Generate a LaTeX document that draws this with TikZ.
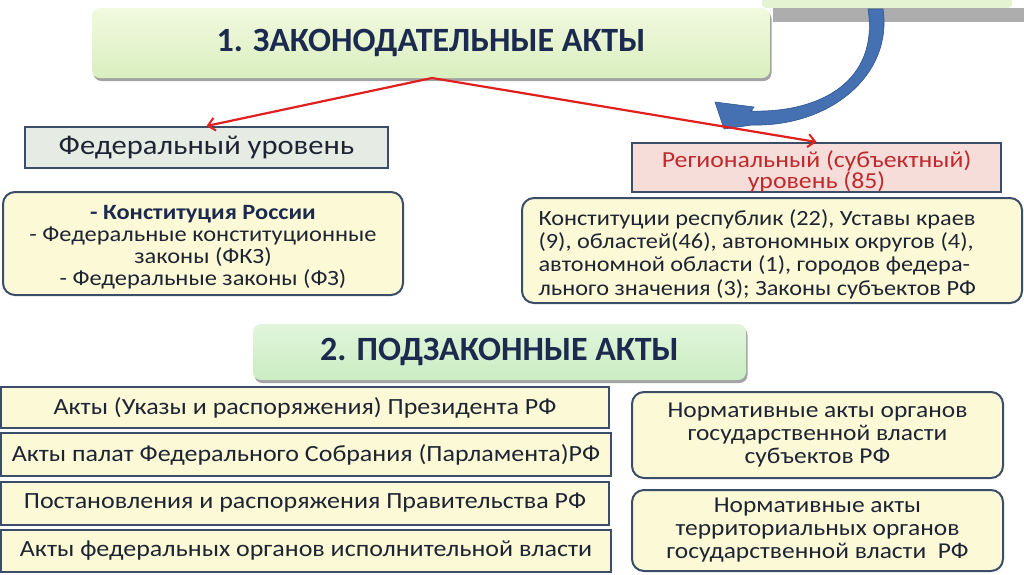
\documentclass[tikz,border=0pt]{standalone}
\usepackage{fontspec}
\setmainfont[FakeStretch=1.12]{Carlito}
\newfontfamily\titlefont{Carlito}
\usetikzlibrary{shadows,arrows.meta}
\definecolor{navy}{HTML}{1B2A4E}
\definecolor{txt}{HTML}{1E2433}
\definecolor{bord}{HTML}{3B4D68}
\definecolor{yell}{HTML}{FCFAD6}
\definecolor{fedfill}{HTML}{E6ECE4}
\definecolor{regfill}{HTML}{F7DDD9}
\definecolor{regtxt}{HTML}{BE2A2E}
\definecolor{redline}{HTML}{E0201E}
\definecolor{blueA}{HTML}{4571B2}
\definecolor{blueB}{HTML}{2E5590}
\definecolor{gA}{HTML}{F2F9DF}
\definecolor{gB}{HTML}{D9EFBF}
\definecolor{mA}{HTML}{E2F5DC}
\definecolor{mB}{HTML}{C9EDC2}
\begin{document}
\begin{tikzpicture}[x=1pt,y=-1pt,
  titlebox/.style={rounded corners=8pt, draw=none,
    drop shadow={shadow xshift=1.5pt, shadow yshift=-3pt, fill=black!45, opacity=0.8},
    text=navy, font=\titlefont\bfseries\fontsize{34}{40}\selectfont},
  flatbox/.style={draw=bord, line width=2pt, text=txt, align=center,
    font=\fontsize{23.2}{23}\selectfont, inner sep=0pt},
  roundbox/.style={flatbox, rounded corners=12pt, fill=yell},
  listbox/.style={flatbox, fill=yell},
  redarrow/.style={draw=redline, line width=2.2pt, -{Straight Barb[length=7pt,width=13pt,line width=2pt]}}
]
\useasboundingbox (0,0) rectangle (1024,574);
\fill[white] (0,0) rectangle (1024,574);

% top-right cut-off box
\fill[gB!70!white, rounded corners=4pt] (762,-10) rectangle (1012,8);
\fill[black!32] (773,8) rectangle (1024,22);

% title 1
\node[titlebox, top color=gA, bottom color=gB, minimum width=678, minimum height=70] (t1) at (431,43) {1. ЗАКОНОДАТЕЛЬНЫЕ АКТЫ};

% blue curved arrow
\filldraw[fill=blueA, draw=blueB, line width=0.6pt]
  (883,9) .. controls (893,75) and (830,127) .. (752,125)
  -- (724,129) -- (715,102) -- (754,107) -- (751,111)
  .. controls (822,113) and (879,80) .. (868,9) -- cycle;

% federal level
\node[flatbox, fill=fedfill, minimum width=363, minimum height=41, font=\fontsize{27.3}{28}\selectfont] (fed) at (206.5,147.5) {Федеральный уровень};
\node[roundbox, minimum width=400, minimum height=103] (fedc) at (203,243.5) {};
\node[text=txt, align=center, font=\fontsize{21.8}{22}\selectfont] (fedt) at (203,247) {{\bfseries\color{navy}- Конституция России}\\- Федеральные конституционные\\законы (ФКЗ)\\- Федеральные законы (ФЗ)};

% regional level
\node[flatbox, fill=regfill, minimum width=369, minimum height=49] (reg) at (816.5,167.5) {};
\node[text=regtxt, align=center, font=\fontsize{23}{21}\selectfont] (regt) at (816.5,171) {Региональный (субъектный)\\уровень (85)};
\node[roundbox, minimum width=500, minimum height=105] (regc) at (772,250.5) {};
\node[anchor=west, text=txt, align=left, font=\fontsize{21.7}{23.3}\selectfont] (regct) at (535,254) {Конституции республик (22), Уставы краев\\(9), областей(46), автономных округов (4),\\автономной области (1), городов федера-\\льного значения (3); Законы субъектов РФ};

% arrows from title 1
\coordinate (apex) at (432,78);
\draw[redarrow] (apex) -- (fed.north);
\draw[redarrow] (apex) -- (reg.north);

% title 2
\node[titlebox, top color=mA, bottom color=mB, minimum width=493, minimum height=56] (t2) at (499.5,352) {2. ПОДЗАКОННЫЕ АКТЫ};

% left list
\node[listbox, minimum width=608, minimum height=41] (l1) at (305,407.5) {Акты (Указы и распоряжения) Президента РФ};
\node[listbox, minimum width=610, minimum height=43] (l2) at (306,454.5) {Акты палат Федерального Собрания (Парламента)РФ};
\node[listbox, minimum width=608, minimum height=43] (l3) at (305,503) {Постановления и распоряжения Правительства РФ};
\node[listbox, minimum width=610, minimum height=42] (l4) at (306,551) {Акты федеральных органов исполнительной власти};

% right list
\node[roundbox, minimum width=371, minimum height=86, font=\fontsize{22.7}{23}\selectfont] (r1) at (817.5,435) {Нормативные акты органов\\государственной власти\\субъектов РФ};
\node[roundbox, minimum width=371, minimum height=81, font=\fontsize{22.7}{23}\selectfont] (r2) at (817.5,530.5) {Нормативные акты\\территориальных органов\\государственной власти~~РФ};
\end{tikzpicture}
\end{document}
